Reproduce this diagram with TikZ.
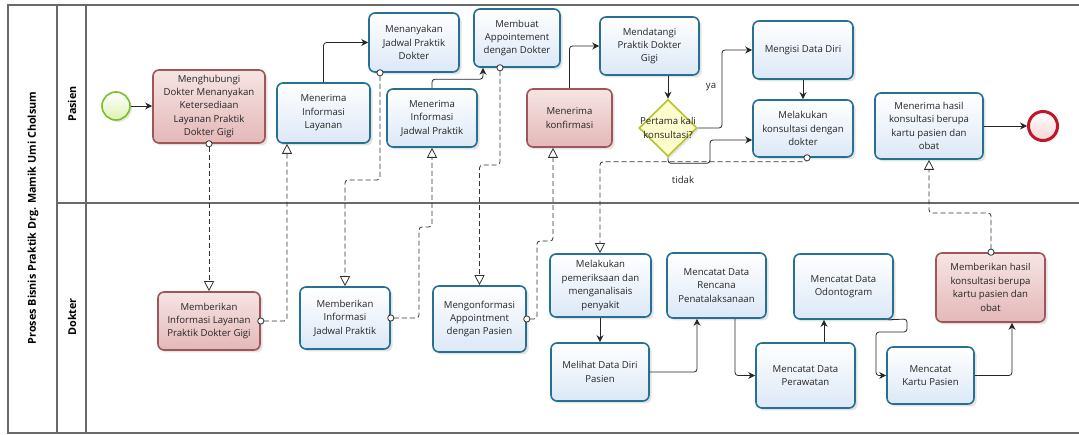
\documentclass[tikz,border=0pt]{standalone}
\usepackage{fontspec}
\setmainfont{Open Sans}
\usetikzlibrary{arrows.meta,shapes.geometric,shadows}

\definecolor{frameline}{RGB}{105,105,105}
\definecolor{taskline}{RGB}{38,112,148}
\definecolor{taskfill}{RGB}{220,232,247}
\definecolor{pinkline}{RGB}{158,86,86}
\definecolor{pinktop}{RGB}{247,228,228}
\definecolor{pinkbot}{RGB}{228,184,184}
\definecolor{startline}{RGB}{122,190,40}
\definecolor{startfill}{RGB}{222,242,180}
\definecolor{endline}{RGB}{192,22,40}
\definecolor{endfill}{RGB}{246,214,214}
\definecolor{gateline}{RGB}{182,196,42}
\definecolor{gatefill}{RGB}{252,252,204}

\newcommand{\boxfont}{\fontsize{9.6}{13.4}\selectfont}

\begin{document}
\begin{tikzpicture}[x=1pt,y=-1pt,
  frame/.style={draw=frameline, line width=1.1pt},
  task/.style={draw=taskline, line width=1.6pt, rounded corners=6pt,
    top color=white, bottom color=taskfill, align=center, inner sep=2pt,
    font=\boxfont, text=black!85,
    drop shadow={opacity=0.22, shadow xshift=2.5pt, shadow yshift=-2.5pt}},
  pinktask/.style={task, draw=pinkline, top color=pinktop, bottom color=pinkbot},
  lanelabel/.style={rotate=90, font=\fontsize{10.8}{12}\selectfont\bfseries},
  seq/.style={draw=black!85, line width=0.8pt, rounded corners=3pt,
    -{Stealth[length=7pt,width=7pt]}},
  msg/.style={draw=black!80, line width=0.8pt, rounded corners=3pt,
    dash pattern=on 5pt off 3pt, shorten <=-3.5pt,
    {Circle[open,length=7pt,width=7pt,fill=white]}-{Triangle[open,length=10pt,width=10pt,fill=white]}},
  flowlabel/.style={font=\boxfont, text=black!85}
]
\useasboundingbox (0,0) rectangle (1079,435);

% pool and lanes
\draw[frame] (1079,5) -- (8,5) -- (8,433) -- (1079,433);
\draw[frame] (57,5) -- (57,433);
\draw[frame] (86,5) -- (86,433);
\draw[frame] (57,203) -- (1079,203);
\node[lanelabel] (pool) at (33,218) {Proses Bisnis Praktik Drg. Mamik Umi Cholsum};
\node[lanelabel] (lanep) at (72,104) {Pasien};
\node[lanelabel] (laned) at (72,317) {Dokter};

% lane Pasien
\node[circle, draw=startline, line width=1.6pt, minimum size=28pt, inner sep=0,
  top color=white, bottom color=startfill,
  drop shadow={opacity=0.2, shadow xshift=2pt, shadow yshift=-2pt}] (start) at (116,106) {};
\node[pinktask, minimum width=112pt, minimum height=73pt] (n1) at (209,106.5)
  {Menghubungi\\Dokter Menanyakan\\Ketersediaan\\Layanan Praktik\\Dokter Gigi};
\node[task, minimum width=93pt, minimum height=60pt] (n2) at (323.5,113)
  {Menerima\\Informasi\\Layanan};
\node[task, minimum width=90pt, minimum height=59pt] (n3) at (414,42.5)
  {Menanyakan\\Jadwal Praktik\\Dokter};
\node[task, minimum width=90pt, minimum height=58pt] (n4) at (432,118)
  {Menerima\\Informasi\\Jadwal Praktik};
\node[task, minimum width=86pt, minimum height=58pt] (n5) at (517,38)
  {Membuat\\Appointement\\dengan Dokter};
\node[pinktask, minimum width=85pt, minimum height=58pt] (n6) at (569.5,118)
  {Menerima\\konfirmasi};
\node[task, minimum width=99pt, minimum height=58pt] (n7) at (649.5,46)
  {Mendatangi\\Praktik Dokter\\Gigi};
\node[diamond, draw=gateline, line width=1.6pt, fill=gatefill, inner sep=0,
  minimum width=58pt, minimum height=57pt,
  drop shadow={opacity=0.2, shadow xshift=2pt, shadow yshift=-2pt}] (gw) at (668,128) {};
\node[flowlabel, align=center] (gwtext) at (668,128) {Pertama kali\\konsultasi?};
\node[task, minimum width=100pt, minimum height=58pt] (n8) at (803,50)
  {Mengisi Data Diri};
\node[task, minimum width=100pt, minimum height=57pt] (n9) at (803,128.5)
  {Melakukan\\konsultasi dengan\\dokter};
\node[task, minimum width=108pt, minimum height=66pt] (n10) at (929,126)
  {Menerima hasil\\konsultasi berupa\\kartu pasien dan\\obat};
\node[circle, draw=endline, line width=3pt, minimum size=29pt, inner sep=0,
  top color=white, bottom color=endfill,
  drop shadow={opacity=0.2, shadow xshift=2pt, shadow yshift=-2pt}] (end) at (1043,126) {};

% lane Dokter
\node[pinktask, minimum width=102pt, minimum height=58pt] (m1) at (209,321)
  {Memberikan\\Informasi Layanan\\Praktik Dokter Gigi};
\node[task, minimum width=90pt, minimum height=62pt] (m2) at (345,318)
  {Memberikan\\Informasi\\Jadwal Praktik};
\node[task, minimum width=93pt, minimum height=66pt] (m3) at (479.5,319)
  {Mengonformasi\\Appointment\\dengan Pasien};
\node[task, minimum width=101pt, minimum height=63pt] (m4) at (600.5,285.5)
  {Melakukan\\pemeriksaan dan\\menganalisais\\penyakit};
\node[task, minimum width=98pt, minimum height=58pt] (m5) at (600,372)
  {Melihat Data Diri\\Pasien};
\node[task, minimum width=99pt, minimum height=65pt] (m6) at (716.5,285.5)
  {Mencatat Data\\Rencana\\Penatalaksanaan};
\node[task, minimum width=99pt, minimum height=65pt] (m7) at (805.5,375.5)
  {Mencatat Data\\Perawatan};
\node[task, minimum width=99pt, minimum height=65pt] (m8) at (843.5,286.5)
  {Mencatat Data\\Odontogram};
\node[task, minimum width=87pt, minimum height=57pt] (m9) at (930.5,375.5)
  {Mencatat\\Kartu Pasien};
\node[pinktask, minimum width=109pt, minimum height=69pt] (m10) at (990.5,287.5)
  {Memberikan hasil\\konsultasi berupa\\kartu pasien dan\\obat};

% sequence flows, lane Pasien
\draw[seq] (start.east) -- (start.east -| n1.west);
\draw[seq] (n2.north) |- (n3.west);
\draw[seq] (n4.north) -- ++(0,-9) -| ([xshift=-34pt]n5.south);
\draw[seq] (n6.north) |- (n7.west);
\draw[seq] (n7.south -| gw.north) -- (gw.north);
\draw[seq] (gw.east) -- (722,128) |- (n8.west);
\node[flowlabel] (ya) at (711,87) {ya};
\draw[seq] (gw.south) -- ++(0,6) -| (710,140) -- ([yshift=-11.5pt]n9.west);
\node[flowlabel] (tidak) at (683,180) {tidak};
\draw[seq] (n8.south) -- (n9.north);
\draw[seq] (n10.east) -- (end.west);

% sequence flows, lane Dokter
\draw[seq] (m4.south -| m5.north) -- (m5.north);
\draw[seq] (m5.east) -| ([xshift=-19.5pt]m6.south);
\draw[seq] ([xshift=18.5pt]m6.south) |- (m7.west);
\draw[seq] ([xshift=18.5pt]m7.north) -- ([xshift=-19.5pt]m8.south);
\draw[seq] ([xshift=-6pt]m8.south east) -- (907,319) -- (907,332) -- (876,332) |- (m9.west);
\draw[seq] (m9.east) -| ([xshift=21.5pt]m10.south);

% message flows between the lanes
\draw[msg] (n1.south) -- (m1.north);
\draw[msg] (m1.east) -| ([xshift=-36.5pt]n2.south);
\draw[msg] ([xshift=-34pt]n3.south) -- (380,180) -| (m2.north);
\draw[msg] (m2.east) -| (419,227) -| (n4.south);
\draw[msg] ([xshift=-17pt]n5.south) -- (500,165) -| (m3.north);
\draw[msg] (m3.east) -| (537,241) -| ([xshift=-16.5pt]n6.south);
\draw[msg] ([xshift=4pt]n9.south) -- ++(0,4) -| ([xshift=-0.5pt]m4.north);
\draw[msg] ([xshift=0.5pt]m10.north) -- (991,213) -| (n10.south);
\end{tikzpicture}
\end{document}
